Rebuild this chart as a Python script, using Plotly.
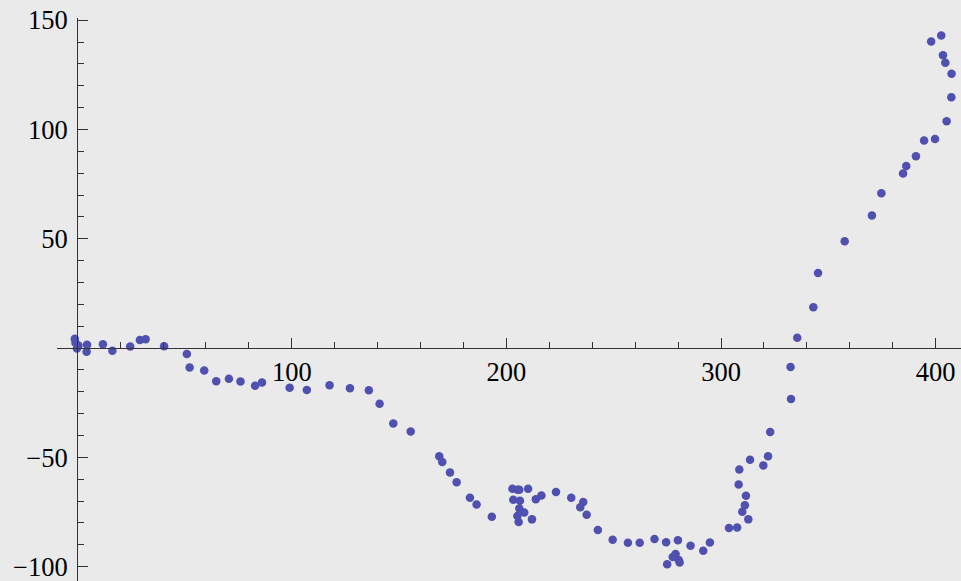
import plotly.graph_objects as go

x_vals = [-1.1, -0.8, 0.6, -0.1, 4.6, 4.4, 12.0, 16.4, 24.7, 29.2, 31.9, 40.5, 51.1, 52.4,
          59.2, 64.8, 70.7, 76.1, 82.9, 86.1, 99.0, 107.0, 117.6, 127.1, 135.9, 140.9,
          147.3, 155.4, 168.7, 170.1, 173.7, 176.8, 183.0, 186.1, 193.2,
          202.8, 205.2, 206.0, 210.1, 203.2, 206.3, 206.0, 208.3, 205.1, 205.7, 211.9,
          213.7, 216.3, 223.1, 230.2, 235.8, 234.4, 237.4, 242.6, 249.5, 256.6, 262.1,
          269.0, 274.4, 279.9, 285.8, 277.5, 278.8, 280.3, 280.7, 274.9, 291.7, 294.8,
          303.7, 307.5, 312.7, 309.9, 311.1, 311.6, 308.2, 308.5, 313.5, 319.7, 321.9,
          322.9, 332.6, 332.4, 335.5, 343.0, 345.2, 357.6, 370.3, 374.7, 384.8, 386.3,
          390.8, 394.6, 399.7, 405.1, 407.3, 407.4, 404.5, 403.4, 402.6, 397.9]
y_vals = [4.2, 2.4, 1.1, -0.2, 1.5, -1.7, 1.7, -1.3, 0.7, 3.7, 4.0, 0.8, -2.7, -8.9,
          -10.3, -15.2, -14.1, -15.3, -17.3, -15.8, -18.2, -19.2, -17.0, -18.4, -19.3, -25.5,
          -34.5, -38.2, -49.5, -52.1, -56.9, -61.4, -68.5, -71.6, -77.2,
          -64.4, -64.8, -64.9, -64.4, -69.4, -69.9, -73.4, -75.3, -76.9, -79.6, -78.4,
          -69.2, -67.5, -65.9, -68.5, -70.5, -72.9, -76.3, -83.3, -87.7, -89.1, -89.1,
          -87.4, -88.9, -88.0, -90.5, -95.6, -94.3, -97.0, -98.1, -98.9, -92.8, -89.0,
          -82.3, -82.1, -78.4, -74.9, -71.9, -67.6, -62.4, -55.6, -51.1, -53.7, -49.5,
          -38.4, -23.3, -8.7, 4.7, 18.7, 34.3, 48.8, 60.6, 70.8, 79.9, 83.3,
          87.7, 94.9, 95.6, 103.8, 114.7, 125.5, 130.5, 134.0, 143.0, 140.3]

x_ticks = [100, 200, 300, 400]
y_ticks = [-100, -50, 50, 100, 150]

x_range = [-9.4, 411.8]
y_range = [-106.6, 151.0]

bg = "#EAEAEA"
axis_col = "#333333"
font = dict(family="Liberation Serif", size=26.5, color="#000000")

fig = go.Figure()
fig.add_trace(go.Scatter(x=x_vals, y=y_vals, mode="markers",
                         marker=dict(size=8.5, color="#5050B0", line=dict(width=0)),
                         showlegend=False, hoverinfo="skip"))

fig.update_layout(
    width=961, height=581,
    margin=dict(l=57, r=0, t=18, b=0),
    paper_bgcolor=bg, plot_bgcolor=bg,
    xaxis=dict(range=x_range, anchor="free",
               position=(0 - y_range[0]) / (y_range[1] - y_range[0]),
               showgrid=False, zeroline=False, showline=True, linecolor=axis_col, linewidth=1.3,
               tickmode="array", tickvals=x_ticks, ticks="inside", ticklen=10, tickwidth=1.3,
               tickcolor=axis_col, tickfont=font, ticklabelstandoff=0,
               ticklabeloverflow="allow",
               minor=dict(tickmode="linear", tick0=0, dtick=20, ticks="inside", ticklen=6,
                          tickwidth=1.2, tickcolor=axis_col, showgrid=False)),
    yaxis=dict(range=y_range, anchor="free",
               position=(0 - x_range[0]) / (x_range[1] - x_range[0]),
               showgrid=False, zeroline=False, showline=True, linecolor=axis_col, linewidth=1.3,
               tickmode="array", tickvals=y_ticks, ticks="inside", ticklen=10, tickwidth=1.3,
               tickcolor=axis_col, tickfont=font, ticklabelstandoff=4,
               ticklabeloverflow="allow",
               minor=dict(tickmode="linear", tick0=0, dtick=10, ticks="inside", ticklen=6,
                          tickwidth=1.2, tickcolor=axis_col, showgrid=False)),
)

fig.write_html("out.html")
